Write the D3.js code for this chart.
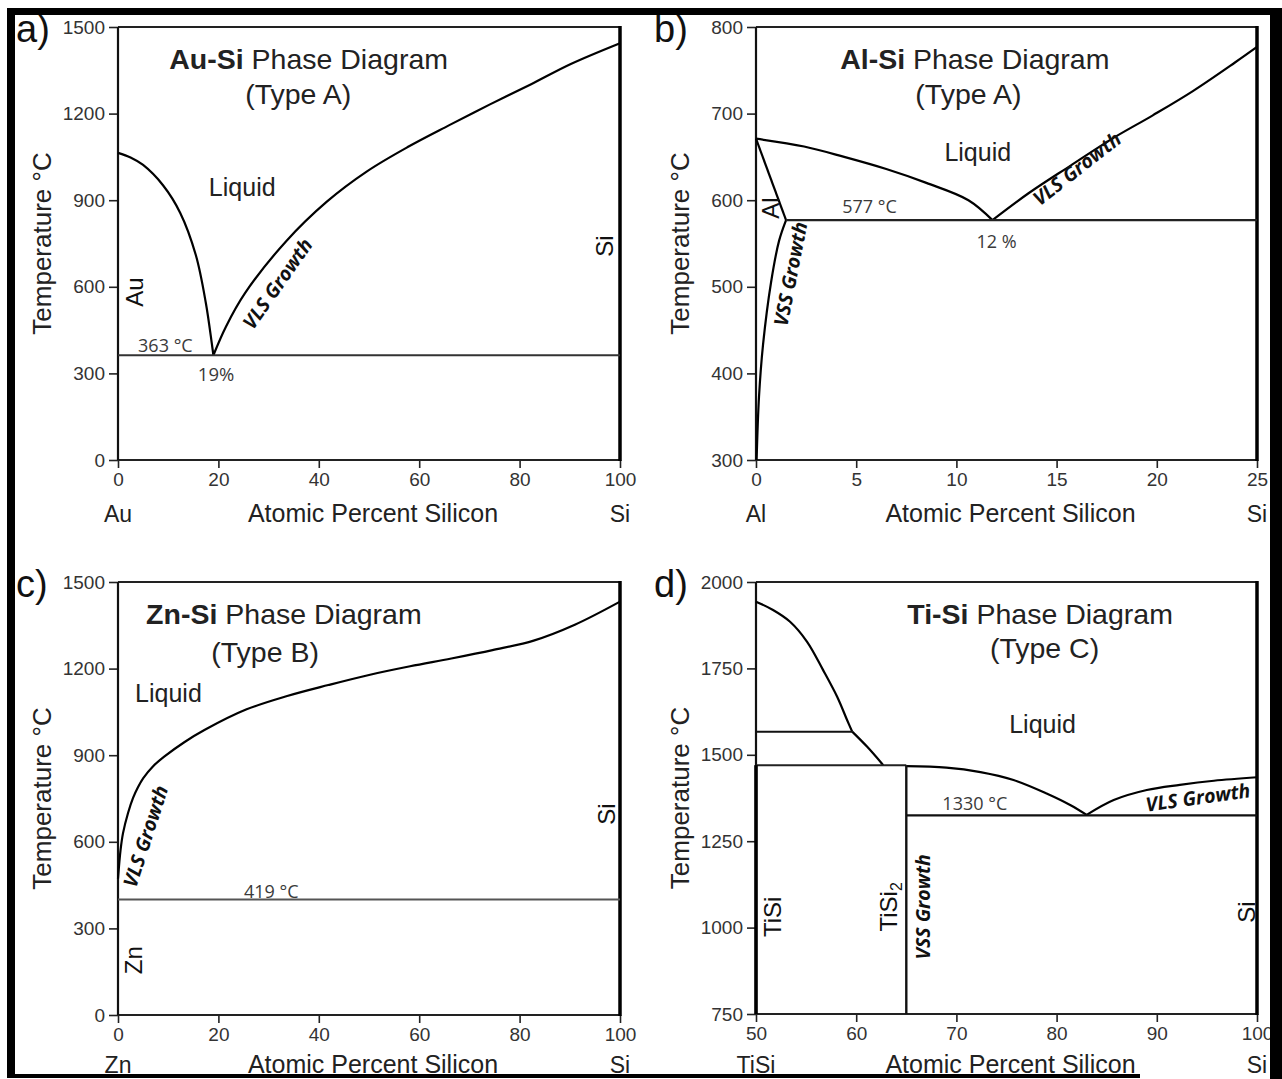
<!DOCTYPE html>
<html><head><meta charset="utf-8">
<script src="https://cdn.jsdelivr.net/npm/d3@7"></script>
<style>
body{margin:0;background:#fff}
text{font-family:"Liberation Sans",Arial,sans-serif}
.note{font-family:"Open Sans",sans-serif}
</style>
</head><body>
<svg id="chart" width="1282" height="1079"></svg>
<script>
// ---------------- DATA ----------------
// tick labels
const xTicksA = [0, 20, 40, 60, 80, 100];
const yTicksA = [0, 300, 600, 900, 1200, 1500];
const xTicksB = [0, 5, 10, 15, 20, 25];
const yTicksB = [300, 400, 500, 600, 700, 800];
const xTicksC = [0, 20, 40, 60, 80, 100];
const yTicksC = [0, 300, 600, 900, 1200, 1500];
const xTicksD = [50, 60, 70, 80, 90, 100];
const yTicksD = [750, 1000, 1250, 1500, 1750, 2000];

// a) Au-Si
const auLiqAuSide = [[0,1064],[2.5,1048],[5,1022],[9,951],[12.4,856],[15.5,710],[17.5,544],[18.7,402],[19,363]];
const auLiqSiSide = [[19,363],[21.5,462],[25.3,578],[33.5,758],[41.6,895],[49.6,1000],[57.8,1085],[66,1160],[74.1,1232],[82.3,1302],[90.2,1372],[100,1444]];
const auEutectic = [[0,363],[100,363]];

// b) Al-Si
const alLiqAlSide = [[0,671],[2.4,662],[4.4,650],[6.5,636],[8.5,620],[10.6,600],[11.8,577]];
const alLiqSiSide = [[11.8,577],[13.6,608],[15.7,640],[17.7,670],[19.8,698],[21.8,726],[23.9,759],[25,777]];
const alSolidus = [[0,671],[1.5,577]];
const alSolvus = [[1.5,577],[1.15,553],[0.75,505],[0.35,433],[0.15,373],[0.03,300]];
const alEutectic = [[1.5,577],[25,577]];

// c) Zn-Si
const znLiq = [[0,472],[0.5,570],[1,630],[2,700],[3,752],[4,790],[5,820],[7,862],[9.2,895],[13.2,945],[17.3,988],[25.5,1058],[33.7,1105],[41.9,1143],[50,1178],[58.2,1208],[66.4,1235],[74.6,1264],[82.8,1297],[91,1352],[100,1432]];
const znEutectic = [[0,400],[100,400]];

// d) Ti-Si
const tiLiqUpper = [[50,1943],[51.7,1919],[53.4,1885],[55.1,1827],[56.7,1745],[58.1,1668],[59.1,1600],[59.6,1567]];
const tiLiqLower = [[59.6,1567],[61.1,1523],[62.7,1470]];
const tiPeritectic = [[50,1567],[59.6,1567]];
const tiSi2Line = [[50,1470],[65,1470]];
const tiLiqSi2Side = [[65,1467],[69,1463],[72.4,1450],[75.7,1427],[79,1388],[81.4,1354],[83,1326]];
const tiLiqSiSide = [[83,1326],[85.7,1369],[89,1398],[92.3,1413],[95.7,1425],[100,1435]];
const tiEutectic = [[65,1325],[100,1325]];
const tiSi2Vertical = [[65,1470],[65,750]];
const tiSiVertical = [[50,1470],[50,750]];

// ---------------- DRAW ----------------
const svg = d3.select("#chart");

function panel(cfg){
  const x = d3.scaleLinear().domain(cfg.xd).range(cfg.xr);
  const y = d3.scaleLinear().domain(cfg.yd).range(cfg.yr);
  const g = svg.append("g");
  const [x0,x1] = cfg.xr, [yb,yt] = cfg.yr;

  // axes
  const ax = g.append("g").attr("transform",`translate(0,${yb})`)
    .call(d3.axisBottom(x).tickValues(cfg.xt).tickFormat(d3.format("d")).tickSize(8).tickPadding(5).tickSizeOuter(0));
  const ay = g.append("g").attr("transform",`translate(${x0},0)`)
    .call(d3.axisLeft(y).tickValues(cfg.yt).tickFormat(d3.format("d")).tickSize(9).tickPadding(4).tickSizeOuter(0));
  [ax,ay].forEach(a=>{
    a.select(".domain").remove();
    a.selectAll("line").attr("stroke","#222").attr("stroke-width",1.6);
    a.selectAll("text").attr("font-size",19).attr("fill","#333")
      .attr("font-family","'Liberation Sans',Arial,sans-serif");
  });

  // frame
  g.append("line").attr("x1",x0).attr("x2",x1).attr("y1",yt).attr("y2",yt).attr("stroke","#222").attr("stroke-width",1.8);
  g.append("line").attr("x1",x0).attr("x2",x1).attr("y1",yb).attr("y2",yb).attr("stroke","#222").attr("stroke-width",2);
  g.append("line").attr("x1",x0).attr("x2",x0).attr("y1",yt).attr("y2",yb).attr("stroke","#111").attr("stroke-width",2.2);
  g.append("line").attr("x1",x1).attr("x2",x1).attr("y1",yt-1).attr("y2",yb+1).attr("stroke","#000").attr("stroke-width",3.5);

  const line = d3.line().x(d=>x(d[0])).y(d=>y(d[1])).curve(d3.curveCatmullRom.alpha(0.5));
  const straight = d3.line().x(d=>x(d[0])).y(d=>y(d[1]));
  (cfg.curves||[]).forEach(c=>{
    g.append("path").attr("d",line(c)).attr("fill","none").attr("stroke","#000").attr("stroke-width",2.2).attr("stroke-linejoin","round");
  });
  (cfg.lines||[]).forEach(c=>{
    g.append("path").attr("d",straight(c.pts)).attr("fill","none").attr("stroke",c.color||"#222").attr("stroke-width",c.w||2);
  });

  // panel letter
  g.append("text").attr("x",x0-102).attr("y",yt+15).attr("font-size",38).attr("fill","#111").text(cfg.letter);

  // titles
  const t = g.append("text").attr("x",x(cfg.title[1])).attr("y",y(cfg.title[2])).attr("font-size",28.5).attr("fill","#222");
  t.append("tspan").attr("font-weight","bold").text(cfg.title[0]);
  t.append("tspan").text(" Phase Diagram");
  g.append("text").attr("x",x(cfg.type[1])).attr("y",y(cfg.type[2])).attr("font-size",28.5).attr("fill","#222")
    .attr("text-anchor","middle").text(cfg.type[0]);

  // axis titles
  g.append("text").attr("transform",`translate(${x0-67},${(yt+yb)/2}) rotate(-90)`)
    .attr("text-anchor","middle").attr("font-size",26).attr("fill","#222").text("Temperature °C");
  g.append("text").attr("x",(x0+x1)/2+4).attr("y",yb+cfg.xtitleDy).attr("text-anchor","middle")
    .attr("font-size",25).attr("fill","#222").text("Atomic Percent Silicon");
  g.append("text").attr("x",x0).attr("y",yb+cfg.xtitleDy).attr("text-anchor","middle")
    .attr("font-size",23).attr("fill","#222").text(cfg.ends[0]);
  g.append("text").attr("x",x1).attr("y",yb+cfg.xtitleDy).attr("text-anchor","middle")
    .attr("font-size",23).attr("fill","#222").text(cfg.ends[1]);

  // plain labels
  (cfg.labels||[]).forEach(l=>{
    g.append("text").attr("x",x(l.x)).attr("y",y(l.y)).attr("font-size",l.size||25)
      .attr("text-anchor",l.anchor||"start").attr("fill",l.cls?"#3a3a3a":"#222").attr("class",l.cls||null).text(l.t);
  });
  // rotated labels
  (cfg.rot||[]).forEach(l=>{
    const tx = g.append("text").attr("transform",`translate(${x(l.x)},${y(l.y)}) rotate(${l.a})`)
      .attr("text-anchor","middle").attr("dominant-baseline","central")
      .attr("font-size",l.size||24).attr("fill","#111");
    if(l.cls){ tx.attr("class",l.cls).attr("font-weight","bold").attr("font-style","italic"); }
    if(l.sub){ tx.append("tspan").text(l.t); tx.append("tspan").attr("baseline-shift","sub").attr("font-size",16).text(l.sub); }
    else tx.text(l.t);
  });
}

panel({
  letter:"a)", xd:[0,100], yd:[0,1500], xr:[118,620], yr:[460,27], xt:xTicksA, yt:yTicksA,
  xtitleDy:62, ends:["Au","Si"],
  title:["Au-Si",10.2,1354], type:["(Type A)",35.9,1233],
  curves:[auLiqAuSide, auLiqSiSide],
  lines:[{pts:auEutectic,color:"#333",w:2}],
  labels:[{t:"Liquid",x:18.1,y:914},
          {t:"363 °C",x:4,y:374,size:18,cls:"note"},
          {t:"19%",x:15.9,y:274,size:18.5,cls:"note"}],
  rot:[{t:"Au",x:3.2,y:582,a:-90},{t:"Si",x:97,y:741,a:-90},
       {t:"VLS Growth",x:31.7,y:612,a:-55,size:19.5,cls:"note"}]
});

panel({
  letter:"b)", xd:[0,25], yd:[300,800], xr:[756,1257], yr:[460,27], xt:xTicksB, yt:yTicksB,
  xtitleDy:62, ends:["Al","Si"],
  title:["Al-Si",4.2,751], type:["(Type A)",10.6,711],
  curves:[alLiqAlSide, alLiqSiSide, alSolvus],
  lines:[{pts:alSolidus,color:"#000",w:2.2},{pts:alEutectic,color:"#222",w:2.2}],
  labels:[{t:"Liquid",x:9.4,y:645},
          {t:"577 °C",x:4.3,y:585,size:18,cls:"note"},
          {t:"12 %",x:11,y:545,size:18,cls:"note"}],
  rot:[{t:"Al",x:0.7,y:591,a:-90},
       {t:"VSS Growth",x:1.7,y:515,a:-79,size:19.5,cls:"note"},
       {t:"VLS Growth",x:16,y:637,a:-38,size:19.5,cls:"note"}]
});

panel({
  letter:"c)", xd:[0,100], yd:[0,1500], xr:[118,620], yr:[1015,582], xt:xTicksC, yt:yTicksC,
  xtitleDy:58, ends:["Zn","Si"],
  title:["Zn-Si",5.6,1354], type:["(Type B)",29.3,1223],
  curves:[znLiq],
  lines:[{pts:znEutectic,color:"#555",w:2}],
  labels:[{t:"Liquid",x:3.4,y:1084},
          {t:"419 °C",x:25.1,y:405,size:18,cls:"note"}],
  rot:[{t:"Zn",x:3,y:190,a:-90},{t:"Si",x:97.4,y:696,a:-90},
       {t:"VLS Growth",x:5.4,y:620,a:-72,size:19.5,cls:"note"}]
});

panel({
  letter:"d)", xd:[50,100], yd:[750,2000], xr:[756,1257], yr:[1014,582], xt:xTicksD, yt:yTicksD,
  xtitleDy:59, ends:["TiSi","Si"],
  title:["Ti-Si",65.1,1878], type:["(Type C)",78.8,1780],
  curves:[tiLiqUpper, tiLiqLower, tiLiqSi2Side, tiLiqSiSide],
  lines:[{pts:tiPeritectic,color:"#111",w:2},{pts:tiSi2Line,color:"#222",w:2},
         {pts:tiEutectic,color:"#111",w:2.2},{pts:tiSi2Vertical,color:"#111",w:2.4},
         {pts:tiSiVertical,color:"#000",w:3.6}],
  labels:[{t:"Liquid",x:78.6,y:1563,anchor:"middle"},
          {t:"1330 °C",x:68.6,y:1340,size:18,cls:"note"}],
  rot:[{t:"TiSi",x:51.6,y:1031,a:-90},{t:"TiSi",sub:"2",x:63.2,y:1060,a:-90},
       {t:"Si",x:99,y:1045,a:-90},
       {t:"VSS Growth",x:66.6,y:1060,a:-90,size:19.5,cls:"note"},
       {t:"VLS Growth",x:94.1,y:1378,a:-8,size:19.5,cls:"note"}]
});

// outer black frame
svg.append("rect").attr("x",7).attr("y",8).attr("width",1275).attr("height",7).attr("fill","#000");
svg.append("rect").attr("x",7).attr("y",8).attr("width",8).attr("height",1069).attr("fill","#000");
svg.append("rect").attr("x",1270).attr("y",8).attr("width",12).attr("height",1071).attr("fill","#000");
svg.append("rect").attr("x",7).attr("y",1074).attr("width",1133).attr("height",4).attr("fill","#000");
</script>
</body></html>
